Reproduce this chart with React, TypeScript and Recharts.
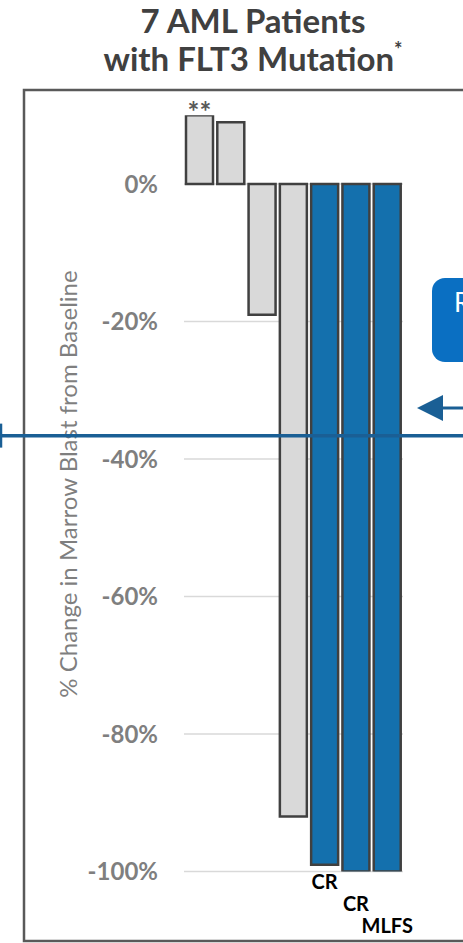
import React from 'react';
import { BarChart, Bar, XAxis, YAxis, CartesianGrid, Cell, LabelList, ReferenceLine, Customized } from 'recharts';

// Seven patients, % change in marrow blasts from baseline
const patients = ['Pt 1', 'Pt 2', 'Pt 3', 'Pt 4', 'Pt 5', 'Pt 6', 'Pt 7'];
const blastChange = [10, 9, -19, -92, -99, -100, -100];
const responder = [false, false, false, false, true, true, true];
const responseLabels = ['', '', '', '', 'CR', 'CR', 'MLFS'];
const responseRow = [0, 0, 0, 0, 0, 1, 2];
const footnoteMarks = ['**', '', '', '', '', '', ''];
const yTicks = [-100, -80, -60, -40, -20, 0];
const thresholdPct = -36.6;

const W = 463;
const H = 943;
const FONT = 'Lato, "Open Sans", sans-serif';
const GRAY_FILL = '#d9d9d9';
const BLUE_FILL = '#1470ad';
const OUTLINE = '#404040';
const LINE_BLUE = '#1a5f95';

const rows = patients.map((p, i) => ({
    patient: p,
    change: blastChange[i],
    responder: responder[i],
    response: responseLabels[i],
    row: responseRow[i],
    mark: footnoteMarks[i],
}));

const renderResponse = (props: any) => {
    const { x, y, width, height, index } = props;
    const d = rows[index];
    if (!d || !d.response) return null;
    const top = Math.min(y, y + height);
    const pxPerUnit = Math.abs(height) / Math.abs(d.change);
    const floorY = top + 100 * pxPerUnit;
    return (
        <text
            x={x + width / 2}
            y={floorY + 17 + d.row * 22}
            textAnchor="middle"
            fontFamily={FONT}
            fontWeight={700}
            fontSize={20}
            fill="#000"
        >
            {d.response}
        </text>
    );
};

const renderMark = (props: any) => {
    const { x, y, width, height, index } = props;
    const d = rows[index];
    if (!d || !d.mark) return null;
    const top = Math.min(y, y + height);
    return (
        <text x={x + width / 2} y={top + 7} textAnchor="middle" fontFamily={FONT} fontWeight={700} fontSize={28} fill="#595959">
            {d.mark}
        </text>
    );
};

// threshold line runs across the whole panel, past the plot area
const thresholdShape = (props: any) => {
    const y = props.y1;
    return (
        <g>
            <line x1={0} y1={y} x2={W} y2={y} stroke={LINE_BLUE} strokeWidth={3.5} />
            <line x1={1} y1={y - 12} x2={1} y2={y + 12} stroke={LINE_BLUE} strokeWidth={2.5} />
        </g>
    );
};

const Decorations = () => (
    <g>
        <rect x={24} y={90} width={W} height={851} fill="none" stroke="#595959" strokeWidth={2.5} />
        <text x={253} y={33} textAnchor="middle" fontFamily={FONT} fontWeight={700} fontSize={33} fill="#404040">
            7 AML Patients
        </text>
        <text x={253} y={71} textAnchor="middle" fontFamily={FONT} fontWeight={700} fontSize={33} fill="#404040">
            with FLT3 Mutation
            <tspan fontSize={20} dy={-14}>*</tspan>
        </text>
        <text
            x={0}
            y={0}
            transform="translate(77 484) rotate(-90)"
            textAnchor="middle"
            fontFamily={FONT}
            fontSize={24}
            fill="#7f7f7f"
        >
            % Change in Marrow Blast from Baseline
        </text>
        <rect x={432} y={278} width={60} height={84} rx={13} fill="#0a6fc2" />
        <text x={454} y={312} fontFamily={FONT} fontSize={26} fill="#fff">R</text>
        <polygon points="417,408 443,395 443,421" fill={LINE_BLUE} />
        <line x1={440} y1={408} x2={W} y2={408} stroke={LINE_BLUE} strokeWidth={3} />
    </g>
);

export default function App() {
    return (
        <div style={{ position: 'absolute', left: 0, top: 0, width: W, height: H, overflow: 'hidden', background: '#fff' }}>
            <BarChart
                width={W}
                height={H}
                data={rows}
                margin={{ top: 115.25, right: 60, bottom: 71.5, left: 0 }}
                barSize={27}
            >
                <CartesianGrid vertical={false} horizontalValues={yTicks} stroke="#d9d9d9" strokeWidth={1.5} />
                <XAxis dataKey="patient" hide />
                <YAxis
                    width={184}
                    domain={[-100, 10]}
                    ticks={yTicks}
                    allowDataOverflow
                    axisLine={false}
                    tickLine={false}
                    tickSize={0}
                    tickMargin={26}
                    tickFormatter={(v: number) => `${v}%`}
                    tick={{ fontFamily: FONT, fontWeight: 700, fontSize: 24, fill: '#7f7f7f' }}
                />
                <Bar dataKey="change" stroke={OUTLINE} strokeWidth={2.5} isAnimationActive={false}>
                    {rows.map((d, i) => (
                        <Cell key={i} fill={d.responder ? BLUE_FILL : GRAY_FILL} />
                    ))}
                    <LabelList dataKey="response" content={renderResponse} />
                    <LabelList dataKey="mark" content={renderMark} />
                </Bar>
                <ReferenceLine y={thresholdPct} ifOverflow="visible" shape={thresholdShape} />
                <Customized component={Decorations} />
            </BarChart>
        </div>
    );
}
